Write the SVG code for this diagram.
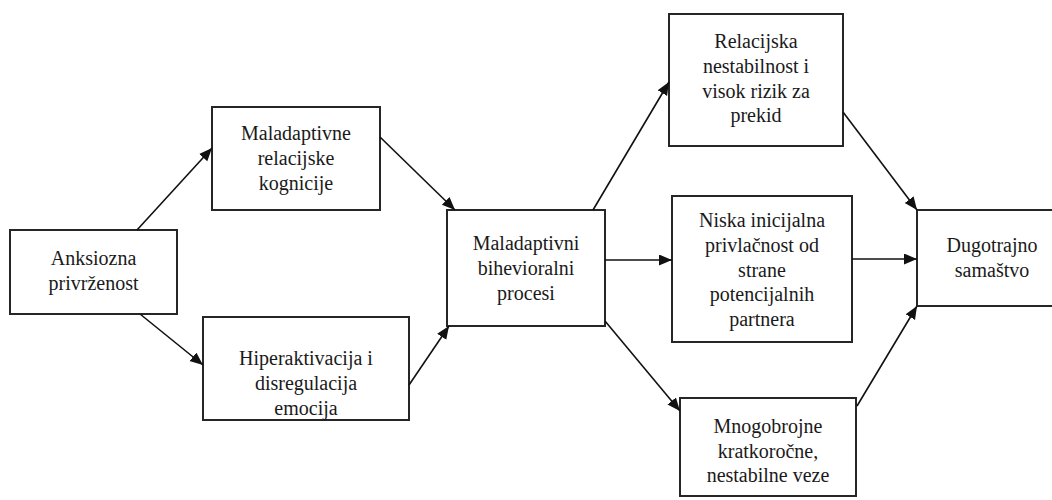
<svg xmlns="http://www.w3.org/2000/svg" width="1052" height="500" viewBox="0 0 1052 500">
<style>
.box{fill:#fff;stroke:#262626;stroke-width:2}
.t{font-family:"Liberation Serif","Times New Roman",serif;font-size:20px;fill:#1a1a1a;text-anchor:middle}
.c{stroke:#111;stroke-width:1.6;fill:none}
</style>
<defs>
<marker id="ah" markerUnits="userSpaceOnUse" markerWidth="14" markerHeight="12" refX="13" refY="5.5" orient="auto">
<path d="M0,0 L13,5.5 L0,11 z" fill="#111"/>
</marker>
</defs>
<rect width="1052" height="500" fill="#fff"/>
<g id="n1"><rect class="box" x="10" y="230" width="167" height="84"/>
<text class="t" x="93.5" y="265">Anksiozna</text><text class="t" x="93.5" y="290">privrženost</text></g>
<g id="n2"><rect class="box" x="212" y="107" width="168" height="103"/>
<text class="t" x="296" y="140">Maladaptivne</text><text class="t" x="296" y="165">relacijske</text><text class="t" x="296" y="190">kognicije</text></g>
<g id="n3"><rect class="box" x="203" y="317" width="206" height="103"/>
<text class="t" x="306" y="365">Hiperaktivacija i</text><text class="t" x="306" y="390">disregulacija</text><text class="t" x="306" y="415">emocija</text></g>
<g id="n4"><rect class="box" x="447" y="210" width="158" height="116"/>
<text class="t" x="526" y="250">Maladaptivni</text><text class="t" x="526" y="275">bihevioralni</text><text class="t" x="526" y="300">procesi</text></g>
<g id="n5"><rect class="box" x="669" y="14" width="174" height="132"/>
<text class="t" x="756" y="48">Relacijska</text><text class="t" x="756" y="73">nestabilnost i</text><text class="t" x="756" y="98">visok rizik za</text><text class="t" x="756" y="122">prekid</text></g>
<g id="n6"><rect class="box" x="672" y="196" width="180" height="146"/>
<text class="t" x="762" y="227">Niska inicijalna</text><text class="t" x="762" y="252">privlačnost od</text><text class="t" x="762" y="277">strane</text><text class="t" x="762" y="301">potencijalnih</text><text class="t" x="762" y="326">partnera</text></g>
<g id="n7"><rect class="box" x="680" y="398" width="176" height="98"/>
<text class="t" x="768" y="433">Mnogobrojne</text><text class="t" x="768" y="458">kratkoročne,</text><text class="t" x="768" y="482">nestabilne veze</text></g>
<g id="n8"><rect class="box" x="917" y="210" width="150" height="96"/>
<text class="t" x="992" y="252">Dugotrajno</text><text class="t" x="992" y="277">samaštvo</text></g>
<g id="connectors">
<line class="c" x1="137" y1="230" x2="212" y2="148" marker-end="url(#ah)"/>
<line class="c" x1="140" y1="314" x2="203" y2="365" marker-end="url(#ah)"/>
<line class="c" x1="380" y1="137" x2="455" y2="210" marker-end="url(#ah)"/>
<line class="c" x1="409" y1="385" x2="449" y2="326" marker-end="url(#ah)"/>
<line class="c" x1="593" y1="210" x2="669" y2="82" marker-end="url(#ah)"/>
<line class="c" x1="605" y1="260" x2="672" y2="260" marker-end="url(#ah)"/>
<line class="c" x1="605" y1="321" x2="680" y2="411" marker-end="url(#ah)"/>
<line class="c" x1="843" y1="112" x2="917" y2="210" marker-end="url(#ah)"/>
<line class="c" x1="852" y1="259" x2="917" y2="259" marker-end="url(#ah)"/>
<line class="c" x1="857" y1="406" x2="917" y2="306" marker-end="url(#ah)"/>
</g>
</svg>
